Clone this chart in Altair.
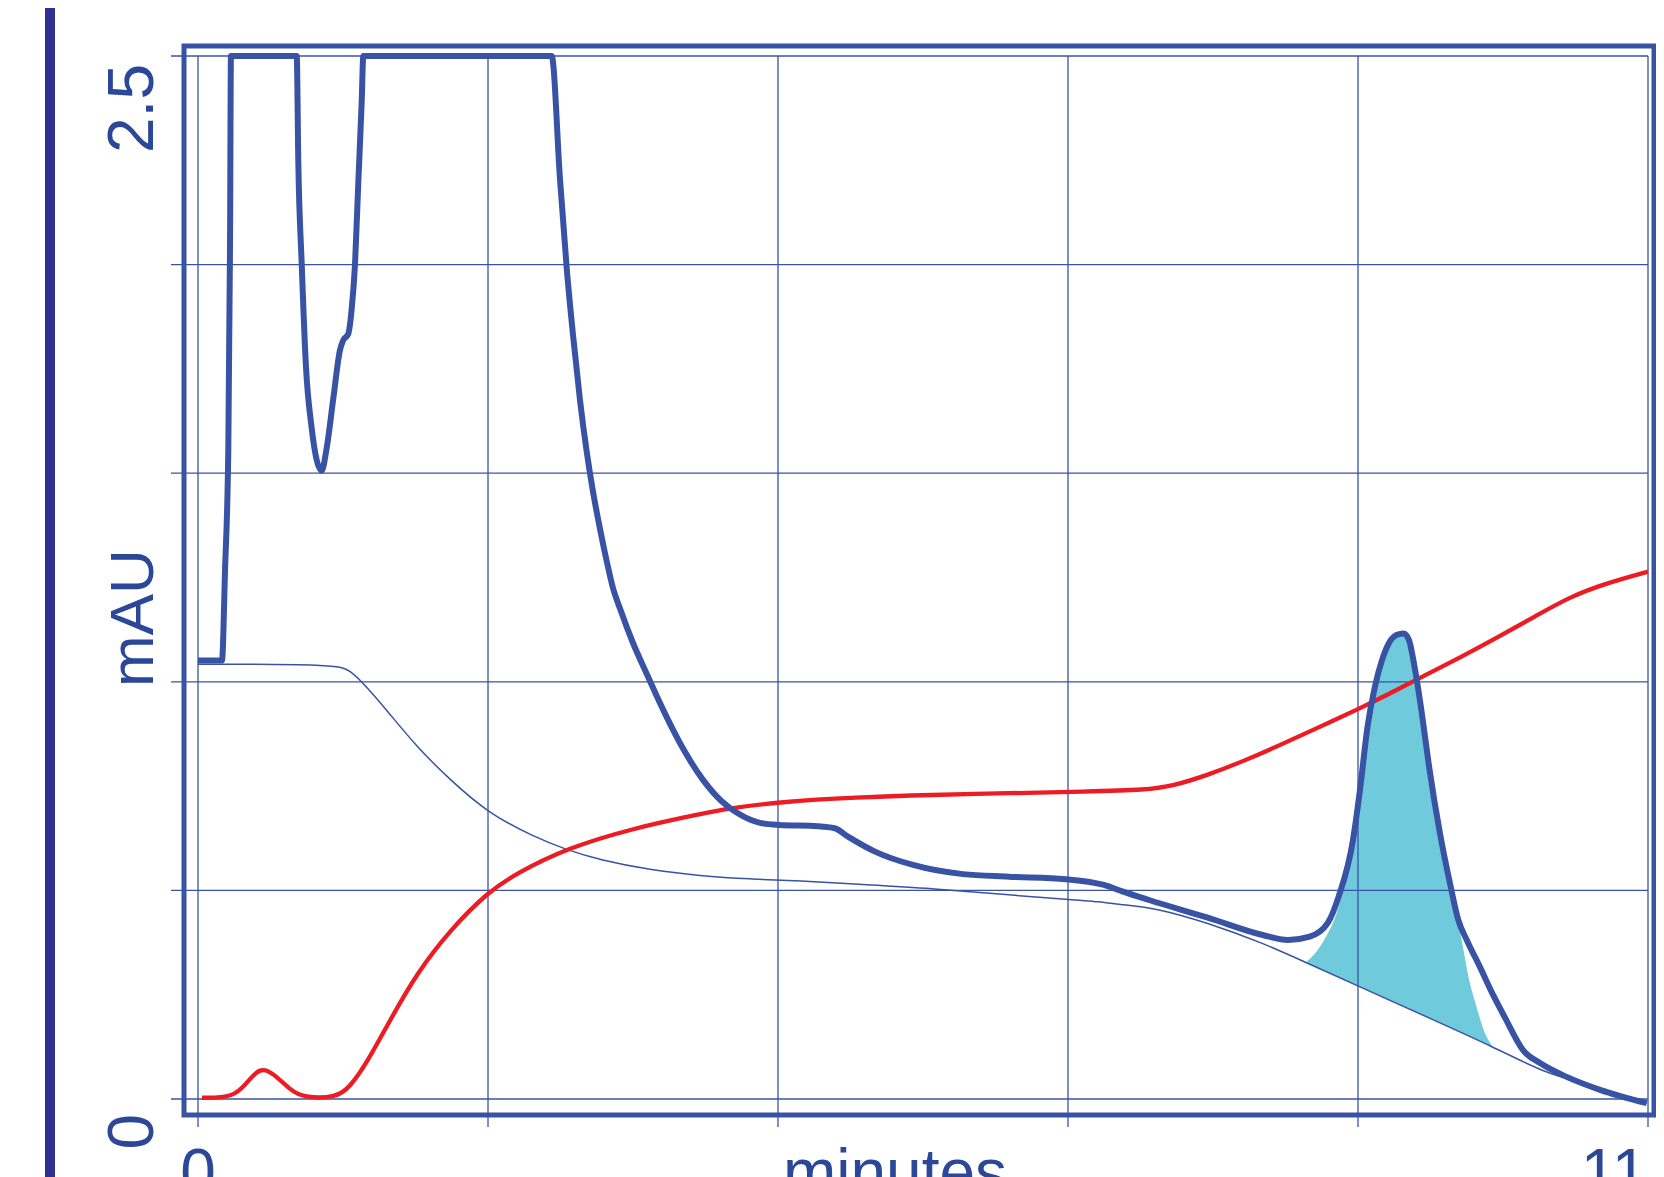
import altair as alt
import pandas as pd

# ---------------- data ----------------
# thick blue trace (mAU vs minutes)
main_t = [0.00, 0.182, 0.205, 0.230, 0.243, 0.250, 0.749, 0.761, 0.787, 0.819, 0.862, 0.900,
          0.938, 0.976, 1.026, 1.077, 1.102, 1.140, 1.166, 1.191, 1.216, 1.242, 1.254, 2.683,
          2.746, 2.797, 2.845, 2.898, 2.949, 2.997, 3.050, 3.100, 3.148, 3.202, 3.300, 3.404,
          3.480, 3.541, 3.685, 3.831, 3.975, 4.089, 4.263, 4.408, 4.700, 4.831, 4.931, 5.136,
          5.424, 5.802, 6.150, 6.585, 6.873, 7.017, 7.215, 7.666, 8.077, 8.269, 8.434, 8.571,
          8.653, 8.762, 8.815, 8.872, 8.928, 8.982, 9.035, 9.091, 9.147, 9.187, 9.229, 9.284,
          9.339, 9.421, 9.503, 9.560, 9.625, 9.723, 9.824, 9.915, 10.052, 10.181, 10.383,
          10.636, 10.990]
main_y = [1.051, 1.051, 1.267, 1.560, 2.049, 2.500, 2.500, 2.246, 2.000, 1.756, 1.609, 1.532,
          1.506, 1.560, 1.678, 1.795, 1.819, 1.834, 1.894, 2.000, 2.196, 2.392, 2.500, 2.500,
          2.206, 1.992, 1.831, 1.675, 1.551, 1.455, 1.366, 1.290, 1.225, 1.175, 1.093, 1.019,
          0.966, 0.925, 0.837, 0.765, 0.713, 0.686, 0.662, 0.657, 0.654, 0.649, 0.629, 0.593,
          0.561, 0.539, 0.533, 0.527, 0.513, 0.497, 0.477, 0.434, 0.393, 0.381, 0.389, 0.422,
          0.485, 0.621, 0.741, 0.892, 0.988, 1.052, 1.093, 1.112, 1.116, 1.100, 1.036, 0.925,
          0.797, 0.638, 0.509, 0.430, 0.381, 0.318, 0.250, 0.195, 0.117, 0.086, 0.053,
          0.022, -0.010]

# thin blue baseline trace
base_t = [0.000, 1.052, 1.153, 1.280, 1.432, 1.659, 1.912, 2.202, 2.544, 2.797, 3.050, 3.429,
          3.808, 4.188, 4.567, 4.990, 5.568, 6.150, 6.585, 6.843, 7.017, 7.252, 7.666, 8.077,
          8.379, 8.812, 9.392, 9.824, 10.204, 10.383, 10.636, 10.990]
base_y = [1.042, 1.042, 1.028, 0.988, 0.932, 0.844, 0.765, 0.685, 0.629, 0.597, 0.573, 0.549,
          0.535, 0.527, 0.523, 0.515, 0.505, 0.489, 0.479, 0.473, 0.465, 0.459, 0.422, 0.374,
          0.331, 0.269, 0.187, 0.125, 0.065, 0.050, 0.020, -0.010]

# red gradient trace
grad_t = [0.030, 0.268, 0.369, 0.470, 0.571, 0.698, 0.799, 1.052, 1.153, 1.280, 1.457,
          1.659, 1.912, 2.202, 2.418, 2.797, 3.302, 3.808, 4.034, 4.408, 4.990, 5.568,
          6.150, 6.729, 7.199, 7.391, 7.666, 7.940, 8.214, 8.489, 8.812, 9.035, 9.311, 9.585,
          9.860, 10.134, 10.408, 10.681, 11.000]
grad_y = [0.003, 0.003, 0.038, 0.077, 0.062, 0.022, 0.003, 0.003, 0.029, 0.086, 0.189,
          0.301, 0.405, 0.497, 0.541, 0.601, 0.649, 0.683, 0.697, 0.712, 0.723, 0.729,
          0.733, 0.737, 0.741, 0.750, 0.777, 0.811, 0.849, 0.889, 0.936, 0.971, 1.016, 1.060,
          1.107, 1.155, 1.204, 1.236, 1.264]

# integrated peak (cyan fill)
fill_t = [8.406, 8.543, 8.653, 8.762, 8.815, 8.872, 8.928, 8.982, 9.035, 9.091, 9.147, 9.187,
          9.229, 9.284, 9.339, 9.421, 9.503, 9.590, 9.640, 9.700, 9.760, 9.824]
fill_top = [0.327, 0.381, 0.461, 0.621, 0.741, 0.892, 0.988, 1.052, 1.093, 1.112, 1.116, 1.100,
            1.036, 0.925, 0.797, 0.638, 0.509, 0.375, 0.290, 0.220, 0.160, 0.125]
fill_bottom = [0.327, 0.308, 0.292, 0.276, 0.269, 0.261, 0.253, 0.245, 0.237, 0.229, 0.221, 0.216,
               0.210, 0.202, 0.194, 0.182, 0.171, 0.158, 0.151, 0.143, 0.134, 0.125]

y_grid = [0.0, 0.5, 1.0, 1.5, 2.0, 2.5]
x_grid = [0.0, 2.2, 4.4, 6.6, 8.8, 11.0]
y_label_low = [0.0]
y_label_low_text = ["0"]
y_label_high = [2.5]
y_label_high_text = ["2.5"]
x_label_values = [0.0]
x_label_texts = ["0"]
x_label_end_values = [11.0]
x_label_end_texts = ["11"]
x_title = "minutes"
y_title = "mAU"

# ---------------- styling ----------------
BLUE = "#3953a4"
NAVY = "#2e3192"
RED = "#ed1c24"
CYAN = "#6fcbdc"
TEXT = "#2b4798"
FONT = "Liberation Sans"

xs = alt.Scale(domain=[-0.1062, 11.0455], nice=False, zero=False)
ys = alt.Scale(domain=[-0.03835, 2.524], nice=False, zero=False)

df_main = pd.DataFrame({"t": main_t, "v": main_y})
df_base = pd.DataFrame({"t": base_t, "v": base_y})
df_grad = pd.DataFrame({"t": grad_t, "v": grad_y})
df_fill = pd.DataFrame({"t": fill_t, "top": fill_top, "bottom": fill_bottom})
df_yg = pd.DataFrame({"v": y_grid})
df_xg = pd.DataFrame({"t": x_grid})
df_yl0 = pd.DataFrame({"v": y_label_low, "s": y_label_low_text})
df_yl1 = pd.DataFrame({"v": y_label_high, "s": y_label_high_text})
df_xl = pd.DataFrame({"t": x_label_values, "s": x_label_texts})
df_xl2 = pd.DataFrame({"t": x_label_end_values, "s": x_label_end_texts})
df_one = pd.DataFrame({"s": [y_title]})
df_one2 = pd.DataFrame({"s": [x_title]})

X = lambda f: alt.X(f, scale=xs, axis=None)
Y = lambda f: alt.Y(f, scale=ys, axis=None)

fill = alt.Chart(df_fill).mark_area(color=CYAN, opacity=1, interpolate="monotone").encode(
    x=X("t:Q"), y=Y("top:Q"), y2="bottom:Q",
)

hgrid = alt.Chart(df_yg).mark_rule(color=BLUE, strokeWidth=1.3).encode(
    y=Y("v:Q"), x=alt.value(-13), x2=alt.value(1464),
)

vgrid = alt.Chart(df_xg).mark_rule(color=BLUE, strokeWidth=1.3).encode(
    x=X("t:Q"), y=alt.value(10), y2=alt.value(1081),
)

base_line = alt.Chart(df_base).mark_line(color=BLUE, strokeWidth=1.5, interpolate="basis").encode(
    x=X("t:Q"), y=Y("v:Q"),
)

grad_line = alt.Chart(df_grad).mark_line(color=RED, strokeWidth=4.3, interpolate="basis").encode(
    x=X("t:Q"), y=Y("v:Q"),
)

main_line = alt.Chart(df_main).mark_line(color=BLUE, strokeWidth=6, interpolate="monotone",
                                         strokeJoin="round").encode(
    x=X("t:Q"), y=Y("v:Q"),
)

left_bar = alt.Chart(df_one).mark_rule(color=NAVY, strokeWidth=10).encode(
    x=alt.value(-134), y=alt.value(-60), y2=alt.value(1250),
)

y_label0 = alt.Chart(df_yl0).mark_text(
    angle=270, align="right", baseline="alphabetic", dx=-15,
    font=FONT, fontSize=64, color=TEXT
).encode(y=Y("v:Q"), x=alt.value(-31), text="s:N")

y_label1 = alt.Chart(df_yl1).mark_text(
    angle=270, align="right", baseline="alphabetic", dx=-8,
    font=FONT, fontSize=64, color=TEXT
).encode(y=Y("v:Q"), x=alt.value(-31), text="s:N")

y_title_mark = alt.Chart(df_one).mark_text(
    angle=270, align="center", baseline="alphabetic",
    font=FONT, fontSize=62, color=TEXT
).encode(x=alt.value(-31), y=alt.value(572), text="s:N")

x_labels = alt.Chart(df_xl).mark_text(
    align="center", baseline="alphabetic", font=FONT, fontSize=64, color=TEXT
).encode(x=X("t:Q"), y=alt.value(1148), text="s:N")

x_labels_end = alt.Chart(df_xl2).mark_text(
    align="center", baseline="alphabetic", dx=-34, font=FONT, fontSize=64, color=TEXT
).encode(x=X("t:Q"), y=alt.value(1148), text="s:N")

x_title_mark = alt.Chart(df_one2).mark_text(
    align="center", baseline="alphabetic", font=FONT, fontSize=64, color=TEXT
).encode(x=alt.value(711), y=alt.value(1148), text="s:N")

chart = alt.layer(
    left_bar, fill, hgrid, vgrid, base_line, grad_line, main_line,
    y_label0, y_label1, y_title_mark, x_labels, x_labels_end, x_title_mark,
).properties(
    width=1470,
    height=1069,
    autosize=alt.AutoSizeParams(type="none"),
    padding={"left": 176, "top": 38, "right": 2, "bottom": 85},
    background="white",
).configure_view(
    stroke=BLUE,
    strokeWidth=5,
)

chart.save("out.html", embed_options={"renderer": "svg", "actions": False})
